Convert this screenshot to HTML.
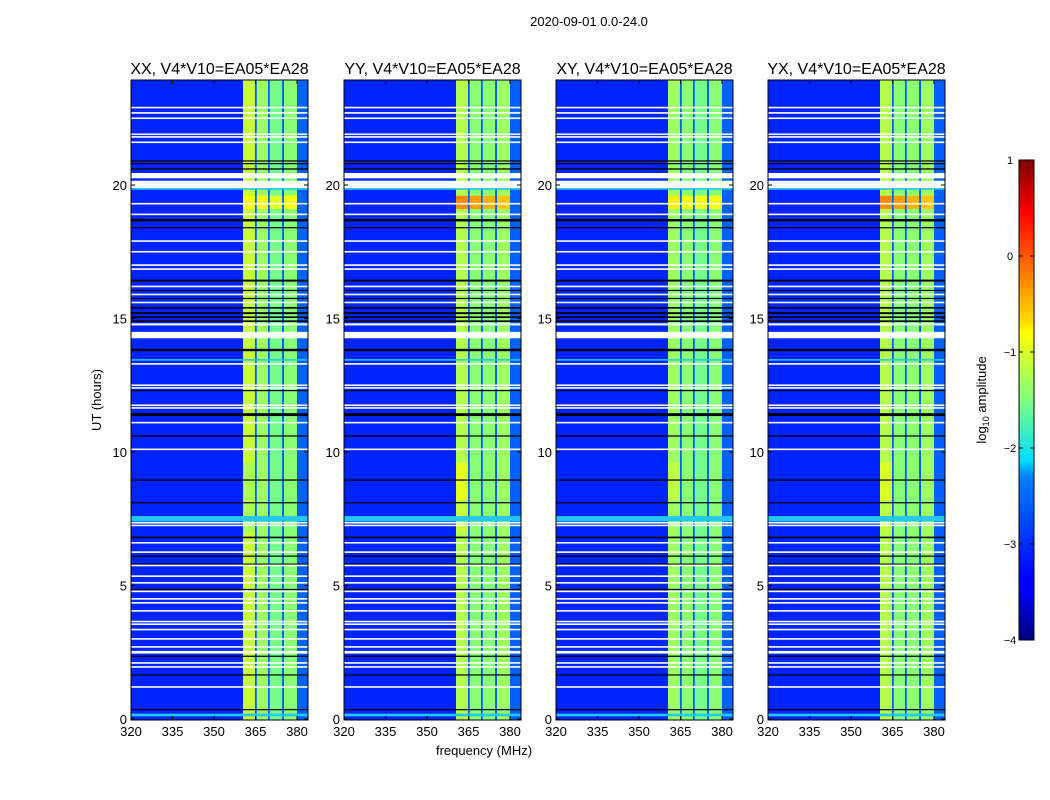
<!DOCTYPE html>
<html><head><meta charset="utf-8"><style>
body{margin:0;background:#fff;}
svg{display:block;font-family:"Liberation Sans","DejaVu Sans",sans-serif;}
</style></head><body>
<svg id="chart" width="1050" height="800" viewBox="0 0 1050 800" xmlns="http://www.w3.org/2000/svg">
<defs>
<linearGradient id="jet" x1="0" y1="1" x2="0" y2="0">
<stop offset="0" stop-color="#00007f"/><stop offset="0.11" stop-color="#0000ff"/><stop offset="0.125" stop-color="#0000ff"/>
<stop offset="0.34" stop-color="#0080ff"/><stop offset="0.375" stop-color="#00dfff"/><stop offset="0.5" stop-color="#7fff7f"/>
<stop offset="0.64" stop-color="#ffff00"/><stop offset="0.66" stop-color="#ffe000"/><stop offset="0.89" stop-color="#ff0000"/><stop offset="1" stop-color="#7f0000"/>
</linearGradient>
</defs>
<text x="589" y="26" font-size="13" text-anchor="middle">2020-09-01 0.0-24.0</text>
<g id="panels"></g>
<g id="cbar">
<rect x="1019" y="160" width="15" height="480" fill="url(#jet)" stroke="#000" stroke-width="1"/>
</g>
<text transform="translate(986,400) rotate(-90)" font-size="13" text-anchor="middle">log<tspan font-size="9" dy="3">10</tspan><tspan dy="-3"> amplitude</tspan></text>
<text transform="translate(101,400) rotate(-90)" font-size="13" text-anchor="middle">UT (hours)</text>
<text x="484" y="755" font-size="13" text-anchor="middle">frequency (MHz)</text>
</svg>
<script>
const panelTitles = ["XX, V4*V10=EA05*EA28","YY, V4*V10=EA05*EA28","XY, V4*V10=EA05*EA28","YX, V4*V10=EA05*EA28"];
const xTicks = [320,335,350,365,380];
const yTicks = [0,5,10,15,20];
const cbTicks = [1,0,-1,-2,-3,-4];
const cbTickLabels = ["1","0","\u22121","\u22122","\u22123","\u22124"];
// frequency bands [start MHz, end MHz]
const bandStart = [320,360.5,364.8,365.5,369.5,370.2,374.6,375.3,380];
const bandEnd   = [360.5,364.8,365.5,369.5,370.2,374.6,375.3,380,384];
// log10 amplitude per band per panel
const levelsXX = [-3.2,-1.15,-2.9,-1.35,-2.9,-1.55,-2.9,-1.45,-2.9];
const levelsYY = [-3.2,-1.25,-2.9,-1.45,-2.9,-1.45,-2.9,-1.35,-2.9];
const levelsXY = [-3.2,-1.35,-2.9,-1.45,-2.9,-1.55,-2.9,-1.45,-2.9];
const levelsYX = [-3.2,-1.25,-2.9,-1.45,-2.9,-1.45,-2.9,-1.35,-2.9];
const panelLevels = [levelsXX,levelsYY,levelsXY,levelsYX];
// event boosts: hour start, hour end, band index, level per panel
const eventStart = [19.1,19.1,19.1,19.1,8.2,7.0];
const eventEnd   = [19.6,19.6,19.6,19.6,9.6,8.1];
const eventBand  = [1,3,5,7,1,1];
const eventXX = [-0.9,-0.9,-1.0,-0.9,-1.3,-1.3];
const eventYY = [-0.3,-0.4,-0.5,-0.6,-1.0,-1.15];
const eventXY = [-0.8,-0.9,-0.9,-0.9,-1.2,-1.35];
const eventYX = [-0.3,-0.4,-0.5,-0.6,-1.05,-1.2];
const panelEvents = [eventXX,eventYY,eventXY,eventYX];
// flagged rows: hour, thickness in hours, type (w=white blank, k=black, c=cyan)
const flagHour = [22.9,22.7,22.5,21.9,21.8,21.6,20.9,20.8,20.6,20.35,20.02,19.85,19.3,18.9,18.68,18.4,17.9,17.5,17.0,16.85,16.42,16.2,16.05,15.9,15.75,15.6,15.4,15.2,15.05,14.9,14.78,14.38,13.82,13.45,13.3,12.5,12.4,12.3,11.75,11.65,11.4,11.1,10.6,10.1,8.95,8.1,7.5,7.35,7.25,6.8,6.6,6.25,6.1,5.8,5.75,5.35,5.1,4.85,4.78,4.5,4.35,4.05,3.65,3.55,3.35,3.0,2.7,2.5,2.35,2.1,1.95,1.65,1.2,0.35,0.15];
const flagSize = [0.06,0.06,0.06,0.06,0.06,0.06,0.06,0.06,0.08,0.2,0.28,0.06,0.06,0.06,0.15,0.06,0.06,0.06,0.06,0.06,0.12,0.06,0.06,0.06,0.06,0.06,0.1,0.12,0.1,0.1,0.08,0.24,0.15,0.06,0.06,0.06,0.06,0.06,0.06,0.06,0.18,0.06,0.06,0.06,0.08,0.06,0.2,0.06,0.06,0.1,0.06,0.06,0.06,0.06,0.06,0.06,0.06,0.08,0.06,0.06,0.06,0.06,0.06,0.06,0.06,0.06,0.06,0.1,0.06,0.06,0.06,0.06,0.06,0.06,0.1];
const flagType = ["w","w","w","w","w","w","k","k","k","w","w","c","w","w","k","k","w","w","w","w","k","w","k","w","k","w","k","k","k","k","w","w","k","c","w","w","w","k","w","w","k","w","k","w","k","k","c","w","w","k","w","w","k","k","w","w","w","k","w","w","w","w","w","w","w","w","w","w","k","w","w","k","w","k","c"];

const NS="http://www.w3.org/2000/svg";
const panelX=[131,344,556,768], PW=177, PT=80, PB=720;
function jet(v){
  let t=Math.max(0,Math.min(1,(v+4)/5));
  const f=(a)=>Math.max(0,Math.min(1,1.5-Math.abs(4*t-a)));
  return `rgb(${Math.round(255*f(3))},${Math.round(255*f(2))},${Math.round(255*f(1))})`;
}
function mk(tag,attrs,parent){const e=document.createElementNS(NS,tag);for(const k in attrs)e.setAttribute(k,attrs[k]);parent.appendChild(e);return e;}
const root=document.getElementById('panels');
panelTitles.forEach((title,p)=>{
  const x0=panelX[p];
  const xs=m=>x0+(m-320)*41.5/15;
  const ys=h=>719-h*26.7;
  const g=mk('g',{},root);
  
  
  const lv=panelLevels[p];
  bandStart.forEach((b,i)=>{
    const r=mk('rect',{x:xs(b),y:PT,width:xs(bandEnd[i])-xs(b),height:PB-PT,fill:jet(lv[i])},g);
    
    
  });
  const ev=panelEvents[p];
  eventStart.forEach((s,i)=>{
    const b=eventBand[i];
    const r=mk('rect',{x:xs(bandStart[b]),y:ys(eventEnd[i]),width:xs(bandEnd[b])-xs(bandStart[b]),height:ys(s)-ys(eventEnd[i]),fill:jet(ev[i])},g);
    
    
  });
  flagHour.forEach((h,i)=>{
    const col=flagType[i]==='w'?'#fff':flagType[i]==='k'?'#000':'#22c8f0';
    const hh=Math.max(1.2,flagSize[i]*26.7*(flagType[i]==='k'?0.6:1));
    const r=mk('rect',{x:x0,y:ys(h)-hh/2,width:PW,height:hh,fill:col},g);
    
    
  });
  const fr=mk('rect',{x:x0,y:PT,width:PW,height:PB-PT,fill:'none',stroke:'#000','stroke-width':1},g);
  
  
  const t=mk('text',{x:x0+PW/2,y:74,'font-size':16,'text-anchor':'middle'},g);
  t.textContent=title;
  
  
  xTicks.forEach(v=>{
    const x=xs(v);
    mk('line',{x1:x,x2:x,y1:PB,y2:PB-4,stroke:'#000'},g);
    mk('line',{x1:x,x2:x,y1:PT,y2:PT+4,stroke:'#000'},g);
    const l=mk('text',{x:x,y:PB+16,'font-size':13,'text-anchor':'middle'},g);
    l.textContent=v;
    
    
  });
  yTicks.forEach(v=>{
    const y=ys(v);
    mk('line',{x1:x0,x2:x0+4,y1:y,y2:y,stroke:'#000'},g);
    mk('line',{x1:x0+PW,x2:x0+PW-4,y1:y,y2:y,stroke:'#000'},g);
    const l=mk('text',{x:x0-4,y:y+5,'font-size':13,'text-anchor':'end'},g);
    l.textContent=v;
    
    
  });
});
const cb=document.getElementById('cbar');
cbTicks.forEach((v,i)=>{
  const y=640-(v+4)/5*480;
  mk('line',{x1:1019,x2:1023,y1:y,y2:y,stroke:'#000'},cb);
  mk('line',{x1:1034,x2:1030,y1:y,y2:y,stroke:'#000'},cb);
  const l=mk('text',{x:1010,y:y+4,'font-size':11,'text-anchor':'middle'},cb);
  l.textContent=cbTickLabels[i];
  
  
});
</script>
</body></html>
